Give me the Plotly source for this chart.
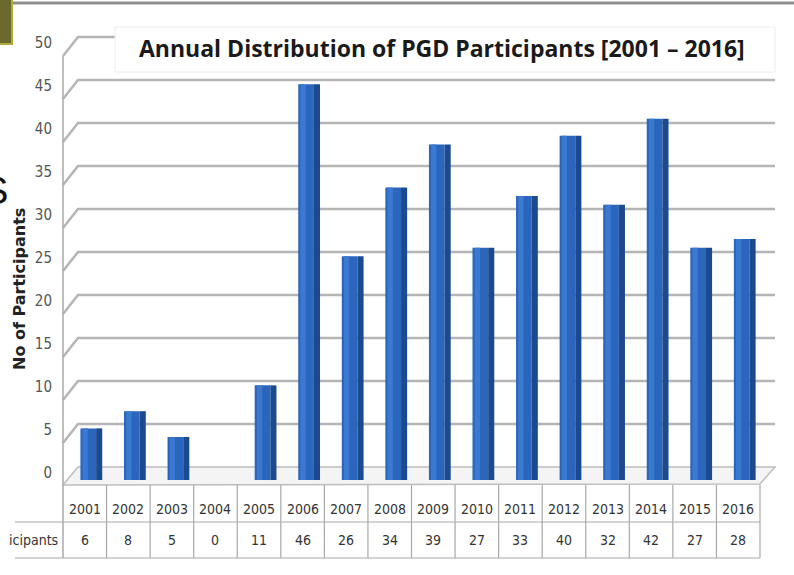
import plotly.graph_objects as go

# ---- data ----
years = ["2001", "2002", "2003", "2004", "2005", "2006", "2007", "2008",
         "2009", "2010", "2011", "2012", "2013", "2014", "2015", "2016"]
participants = [6, 8, 5, 0, 11, 46, 26, 34, 39, 27, 33, 40, 32, 42, 27, 28]
y_ticks = [0, 5, 10, 15, 20, 25, 30, 35, 40, 45, 50]
title_text = "Annual Distribution of PGD Participants [2001 \u2013 2016]"
y_title = "No of Participants"
row_label = "icipants"

# ---- geometry (pixels) ----
W, H = 794, 575
L, R = 63, 760          # plot area x
T, B = 24, 480          # plot area y (B = value 0)
YMAX = 53.0


def px(x):
    return (x - L) / (R - L)


def py(y):
    return (B - y) / (B - T)


NARROW = "Liberation Sans Narrow, DejaVu Sans Condensed, Arial Narrow, sans-serif"

fig = go.Figure()

# front face
fig.add_trace(go.Bar(x=years, y=participants, width=0.36, offset=-0.1,
                     marker=dict(color="#2C66BC", line=dict(width=0)),
                     hoverinfo="x+y", showlegend=False))
# highlight strip
fig.add_trace(go.Bar(x=years, y=participants, width=0.12, offset=-0.05,
                     marker=dict(color="#3C7AD2", line=dict(width=0)),
                     hoverinfo="skip", showlegend=False))
# side face
fig.add_trace(go.Bar(x=years, y=participants, width=0.14, offset=0.26,
                     marker=dict(color="#1B4A8E", line=dict(width=0)),
                     hoverinfo="skip", showlegend=False))

shapes = []
GRID = "#B5B5B5"
# back-wall gridlines with 3D diagonal
for v in y_ticks:
    back = 467 - 8.6 * v
    front = back + 19
    if v == 0:
        continue
    shapes.append(dict(type="path", xref="paper", yref="paper", layer="below",
                       path=f"M {px(63)},{py(front)} L {px(78)},{py(back)} L {px(775)},{py(back)}",
                       line=dict(color=GRID, width=2.5)))

# floor
shapes.append(dict(type="path", xref="paper", yref="paper", layer="below",
                   path=f"M {px(63)},{py(485)} L {px(78)},{py(467)} L {px(775)},{py(467)} L {px(760)},{py(484)} Z",
                   fillcolor="#F4F4F4", line=dict(color="#BDBDBD", width=1.5)))

# y axis line (continues into table border)
shapes.append(dict(type="line", xref="paper", yref="paper", layer="below",
                   x0=px(63), x1=px(63), y0=py(56), y1=py(558),
                   line=dict(color="#A8A8A8", width=1.5)))

# table
col_w = (R - L) / len(years)
for k in range(1, len(years) + 1):
    xk = L + k * col_w
    shapes.append(dict(type="line", xref="paper", yref="paper", layer="above",
                       x0=px(xk), x1=px(xk), y0=py(485), y1=py(558),
                       line=dict(color="#A8A8A8", width=1.2)))
for yy in (522, 558):
    shapes.append(dict(type="line", xref="paper", yref="paper", layer="above",
                       x0=px(15), x1=px(760), y0=py(yy), y1=py(yy),
                       line=dict(color="#A8A8A8", width=1.2)))

# title box
shapes.append(dict(type="rect", xref="paper", yref="paper", layer="above",
                   x0=px(115), x1=px(775), y0=py(27), y1=py(72),
                   fillcolor="white", line=dict(color="#ECECEC", width=1)))

# slide decorations
shapes.append(dict(type="line", xref="paper", yref="paper", layer="above",
                   x0=px(13), x1=px(794), y0=py(3), y1=py(3),
                   line=dict(color="#8E8E8E", width=3)))
shapes.append(dict(type="rect", xref="paper", yref="paper", layer="above",
                   x0=px(-2), x1=px(12), y0=py(-2), y1=py(44),
                   fillcolor="#6A6930", line=dict(color="#B2AA3A", width=2)))

annotations = []
annotations.append(dict(text=f"<b>{title_text}</b>", x=px(442), y=py(48),
                        xref="paper", yref="paper", showarrow=False,
                        xanchor="center", yanchor="middle",
                        font=dict(family="Open Sans, Liberation Sans, sans-serif",
                                  size=23, color="#1A1A1A")))
annotations.append(dict(text=f"<b>{y_title}</b>", x=px(19), y=py(289),
                        xref="paper", yref="paper", showarrow=False,
                        textangle=-90, xanchor="center", yanchor="middle",
                        font=dict(family="DejaVu Sans, sans-serif", size=16,
                                  color="#222222")))
annotations.append(dict(text="S", x=px(10), y=py(191), xref="paper", yref="paper",
                        showarrow=False, xanchor="right", yanchor="middle",
                        font=dict(family="Liberation Sans, Arial, sans-serif",
                                  size=38, color="#111111")))
for i, (yr, val) in enumerate(zip(years, participants)):
    annotations.append(dict(text=yr, x=i, y=py(509), xref="x", yref="paper",
                            showarrow=False, xanchor="center", yanchor="middle",
                            font=dict(family=NARROW, size=14, color="#333333")))
    annotations.append(dict(text=str(val), x=i, y=py(540), xref="x", yref="paper",
                            showarrow=False, xanchor="center", yanchor="middle",
                            font=dict(family=NARROW, size=14, color="#333333")))
annotations.append(dict(text=row_label, x=px(60), y=py(540), xref="paper", yref="paper",
                        showarrow=False, xanchor="right", yanchor="middle",
                        font=dict(family=NARROW, size=14, color="#333333")))

fig.update_layout(
    width=W, height=H,
    margin=dict(l=L, r=W - R, t=T, b=H - B, pad=0),
    paper_bgcolor="white", plot_bgcolor="rgba(0,0,0,0)",
    barmode="overlay",
    showlegend=False,
    shapes=shapes,
    annotations=annotations,
    xaxis=dict(type="category", categoryarray=years, range=[-0.5, len(years) - 0.5],
               showticklabels=False, showgrid=False, zeroline=False, showline=False,
               ticks=""),
    yaxis=dict(range=[0, YMAX], tickvals=y_ticks, showgrid=False, zeroline=False,
               showline=False, ticks="", ticklabelshift=-7, ticklabelstandoff=10,
               tickfont=dict(family=NARROW, size=15, color="#555555")),
)

fig.write_html("out.html",
               config={"displayModeBar": False},
               post_script="document.body.style.margin='0';document.body.style.padding='0';")
